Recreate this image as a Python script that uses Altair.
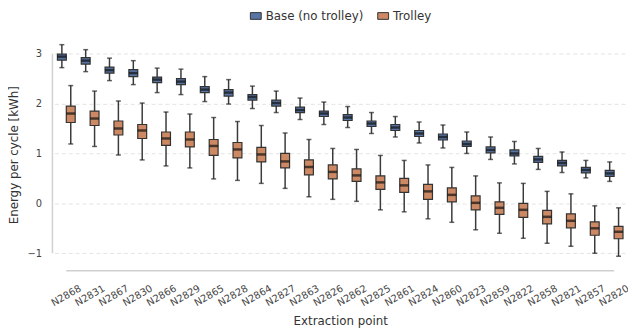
import altair as alt
import pandas as pd

categories = ["N2868", "N2831", "N2867", "N2830", "N2866", "N2829", "N2865", "N2828",
              "N2864", "N2827", "N2863", "N2826", "N2862", "N2825", "N2861", "N2824",
              "N2860", "N2823", "N2859", "N2822", "N2858", "N2821", "N2857", "N2820"]
series_names = ["Base (no trolley)", "Trolley"]

base_lo  = [2.72, 2.64, 2.46, 2.38, 2.22, 2.18, 2.04, 1.99, 1.90, 1.82, 1.68, 1.58,
            1.52, 1.40, 1.33, 1.21, 1.11, 1.00, 0.88, 0.79, 0.68, 0.62, 0.51, 0.44]
base_q1  = [2.87, 2.79, 2.61, 2.54, 2.42, 2.38, 2.22, 2.15, 2.07, 1.95, 1.82, 1.74,
            1.66, 1.54, 1.46, 1.34, 1.27, 1.14, 1.01, 0.95, 0.82, 0.75, 0.61, 0.54]
base_med = [2.94, 2.86, 2.67, 2.61, 2.48, 2.44, 2.28, 2.22, 2.13, 2.01, 1.87, 1.80,
            1.72, 1.60, 1.52, 1.40, 1.33, 1.19, 1.07, 1.00, 0.88, 0.81, 0.67, 0.60]
base_q3  = [2.99, 2.92, 2.73, 2.68, 2.53, 2.50, 2.34, 2.28, 2.18, 2.07, 1.93, 1.85,
            1.78, 1.65, 1.58, 1.46, 1.39, 1.25, 1.13, 1.07, 0.94, 0.86, 0.72, 0.66]
base_hi  = [3.18, 3.08, 2.91, 2.86, 2.71, 2.69, 2.54, 2.48, 2.35, 2.25, 2.11, 2.03,
            1.94, 1.82, 1.74, 1.63, 1.57, 1.43, 1.33, 1.24, 1.10, 1.03, 0.86, 0.83]

trol_lo  = [1.19, 1.14, 0.97, 0.87, 0.75, 0.71, 0.49, 0.46, 0.40, 0.30, 0.13, 0.08,
            0.04, -0.13, -0.17, -0.31, -0.38, -0.53, -0.60, -0.70, -0.80, -0.86, -1.00, -1.06]
trol_q1  = [1.62, 1.56, 1.37, 1.30, 1.16, 1.13, 0.96, 0.91, 0.83, 0.71, 0.57, 0.49,
            0.44, 0.28, 0.22, 0.08, 0.03, -0.13, -0.22, -0.28, -0.41, -0.49, -0.64, -0.71]
trol_med = [1.80, 1.70, 1.50, 1.46, 1.30, 1.28, 1.15, 1.08, 0.98, 0.84, 0.73, 0.63,
            0.56, 0.42, 0.36, 0.24, 0.17, 0.01, -0.09, -0.13, -0.27, -0.35, -0.50, -0.57]
trol_q3  = [1.95, 1.85, 1.65, 1.58, 1.43, 1.43, 1.28, 1.22, 1.12, 1.00, 0.87, 0.77,
            0.69, 0.55, 0.50, 0.38, 0.31, 0.15, 0.03, 0.00, -0.14, -0.21, -0.37, -0.46]
trol_hi  = [2.36, 2.25, 2.05, 2.01, 1.83, 1.79, 1.72, 1.64, 1.56, 1.41, 1.28, 1.10,
            1.08, 0.96, 0.86, 0.77, 0.72, 0.55, 0.41, 0.40, 0.24, 0.19, -0.05, -0.09]

rows = []
for i, c in enumerate(categories):
    rows.append(dict(cat=c, series=series_names[0], lo=base_lo[i], q1=base_q1[i],
                     med=base_med[i], q3=base_q3[i], hi=base_hi[i]))
    rows.append(dict(cat=c, series=series_names[1], lo=trol_lo[i], q1=trol_q1[i],
                     med=trol_med[i], q3=trol_q3[i], hi=trol_hi[i]))
df = pd.DataFrame(rows)

FONT = "DejaVu Sans"
ymin, ymax = -1.35, 3.3
yscale = alt.Scale(domain=[ymin, ymax], nice=False, zero=False)
yaxis = alt.Axis(values=[-1, 0, 1, 2, 3], grid=True, gridDash=[4, 3], gridColor="#dddddd",
                 gridWidth=0.8, domain=False, ticks=False, labelPadding=13,
                 labelFontSize=10, labelColor="#444444", labelFont=FONT,
                 title="Energy per cycle [kWh]", titleFont=FONT, titleFontSize=12,
                 titleColor="#333333", titleFontWeight="normal",
                 titleX=-41, titleY=117.5, titleAlign="center", titleBaseline="middle",
                 titleAngle=270)
xaxis = alt.Axis(domain=False, ticks=False, labelAngle=-30, labelAlign="center",
                 labelBaseline="middle", labelPadding=25, labelFontSize=10,
                 labelColor="#444444", labelFont=FONT, title="Extraction point",
                 titleFont=FONT, titleFontSize=12, titleColor="#333333",
                 titleFontWeight="normal", titleY=50, titleBaseline="middle", grid=False)

X = alt.X("cat:N", sort=categories, scale=alt.Scale(paddingInner=0, paddingOuter=0), axis=xaxis)
XO = alt.XOffset("series:N", sort=series_names,
                 scale=alt.Scale(paddingInner=0, paddingOuter=0.34))
colors = alt.Scale(domain=series_names, range=["#5875a4", "#cc8963"])

base = alt.Chart(df)

whisk = base.mark_rule(color="#3a3a3a", strokeWidth=1.5).encode(
    x=X, xOffset=XO,
    y=alt.Y("lo:Q", scale=yscale, axis=yaxis), y2="hi:Q")

box = base.mark_bar(stroke="#333333", strokeWidth=1.2).encode(
    x=X, xOffset=XO,
    y=alt.Y("q1:Q", scale=yscale, axis=yaxis), y2="q3:Q",
    color=alt.Color("series:N", scale=colors, sort=series_names,
                    legend=alt.Legend(title=None, orient="none", direction="horizontal",
                                      legendX=198, legendY=-29,
                                      symbolType="M-1,-0.62H1V0.62H-1Z", symbolSize=121,
                                      symbolStrokeColor="#333333", symbolStrokeWidth=1,
                                      symbolOpacity=1, labelFont=FONT, labelFontSize=12,
                                      labelColor="#333333", labelOffset=4,
                                      columnPadding=11)))

med = base.mark_tick(color="#111111", size=9, thickness=2.5).encode(
    x=X, xOffset=XO, y=alt.Y("med:Q", scale=yscale, axis=yaxis))
cap_lo = base.mark_tick(color="#222222", size=5, thickness=1.5).encode(
    x=X, xOffset=XO, y=alt.Y("lo:Q", scale=yscale, axis=yaxis))
cap_hi = base.mark_tick(color="#222222", size=5, thickness=1.5).encode(
    x=X, xOffset=XO, y=alt.Y("hi:Q", scale=yscale, axis=yaxis))

one = alt.Chart(pd.DataFrame({"a": [0]}))
yline = one.mark_rule(color="#d0d0d0", strokeWidth=1.5).encode(
    x=alt.value(-2), y=alt.datum(-1, scale=yscale), y2=alt.datum(3))
xline = one.mark_rule(color="#d0d0d0", strokeWidth=1.5).encode(
    x=alt.datum(categories[0]), x2=alt.datum(categories[-1]), y=alt.value(235))

chart = alt.layer(yline, xline, whisk, box, med, cap_lo, cap_hi).properties(
    width=579, height=235,
    autosize=alt.AutoSizeParams(type="none"),
    padding={"left": 47, "top": 29, "right": 2, "bottom": 60},
).configure_view(stroke=None).configure_legend(padding=0)

chart.save("out.html", embed_options={"renderer": "svg", "actions": False})
